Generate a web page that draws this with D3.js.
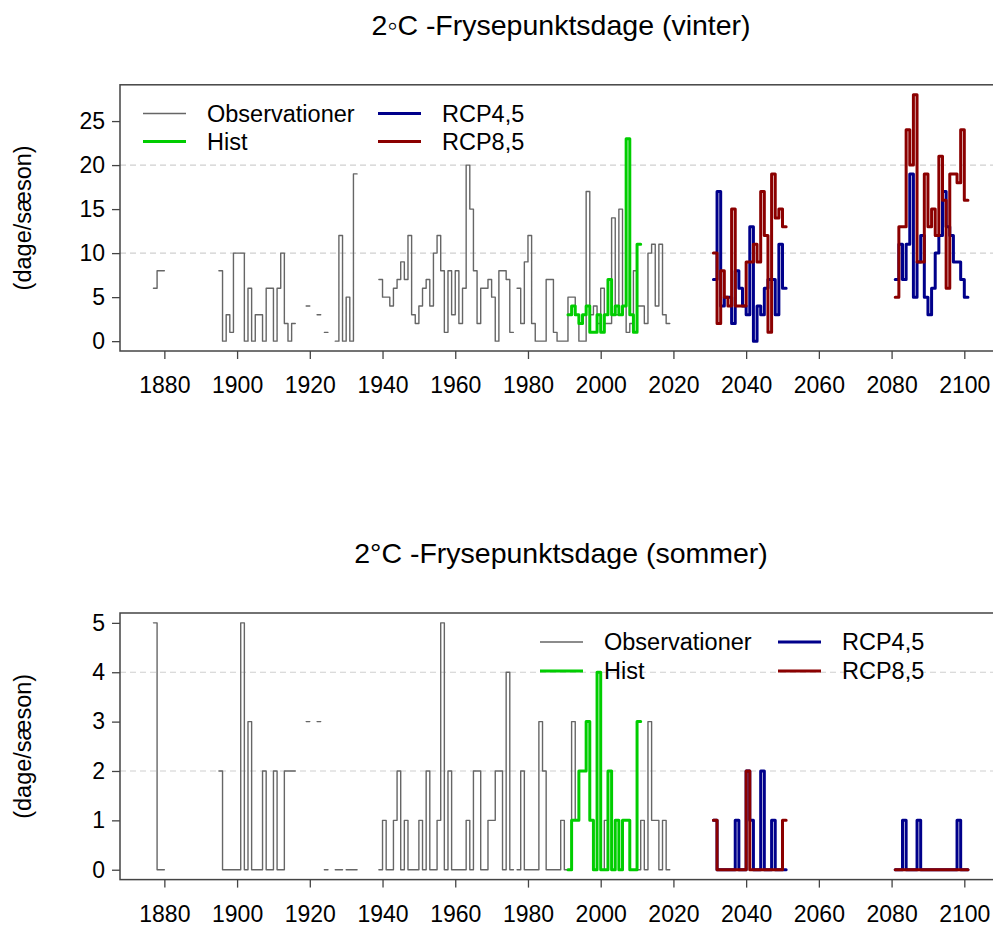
<!DOCTYPE html>
<html>
<head>
<meta charset="utf-8">
<script src="https://cdn.jsdelivr.net/npm/d3@7"></script>
<style>
  body { margin: 0; background: #fff; }
  svg text { font-family: "Liberation Sans", Arial, sans-serif; fill: #000; }
</style>
</head>
<body>
<svg id="chart" width="993" height="935"></svg>
<script>
// ---- data (one value per season/year) ----
const obsStart = 1877;
const histStart = 1991;
const nearStart = 2031;
const farStart = 2081;

// vinter
const obsWinter = [6, 8, 8,
  null, null, null, null, null, null, null, null, null, null, null, null, null, null, null,
  8, 0, 3, 1, 10, 10, 10, 0, 6, 0, 3, 3, 0, 6, 6, 0, 6, 10, 2, 0, 2,
  null, null, null, 4, null, null, 3, null, 1, null, null,
  0, 12, 0, 5, 0, 19,
  null, null, null, null, null, null,
  7, 5, 5, 4, 6, 7, 9, 7, 12, 3, 2, 4, 6, 7, 4, 10, 12, 8, 1, 8, 3, 8, 2, 6, 20, 15, 8, 2, 6, 6, 7, 5, 0, 8, 8, 7, 1,
  null,
  6, 2, 9, 12, 2, 0, 0, 0, 7, 7, 1, 0, 0, 0, 5, 5, 3, 0, 0, 17, 3, 4, 2, 6, 2, 2, 14, 3, 15, 4, 1, 2, 8, 4, 4, 2, 10, 11, 4, 11, 3, 2];
const histWinter = [3, 4, 3, 2, 3, 4, 1, 1, 3, 1, 3, 7, 3, 4, 3, 4, 23, 3, 1, 11];
const rcp45WinterNear = [7, 17, 4, 5, 5, 2, 8, 6, 4, 3, 13, 0, 4, 3, 6, 7, 7, 3, 11, 6];
const rcp85WinterNear = [10, 2, 8, 5, 4, 15, 4, 4, 4, 9, 9, 11, 9, 17, 12, 1, 19, 14, 15, 13];
const rcp45WinterFar = [7, 11, 7, 11, 19, 5, 9, 12, 5, 3, 6, 10, 12, 17, 13, 12, 9, 9, 7, 5];
const rcp85WinterFar = [5, 13, 13, 24, 20, 28, 9, 9, 19, 13, 15, 12, 21, 16, 6, 19, 19, 18, 24, 16];

// sommer
const obsSummer = [5, 0, 0,
  null, null, null, null, null, null, null, null, null, null, null, null, null, null, null,
  2, 0, 0, 0, 0, 0, 5, 0, 3, 0, 0, 0, 2, 0, 0, 2, 0, 0, 2, 2, 2,
  null, null, null, 3, null, null, 3, null, 0, null, null,
  0, 0, null, 0, 0, 0,
  null, null, null, null, null, null,
  0, 1, 0, 0, 1, 2, 0, 1, 0, 0, 0, 1, 0, 2, 0, 0, 1, 5, 0, 2, 0, 0, 0, 0, 1, 0, 2, 2, 0, 0, 1, 1, 2, 2, 0, 4, 0,
  null,
  0, 2, 0, 0, 0, 0, 3, 2, 0, 0, 0, 0, 1, 0, 0, 3, 1, 2, 2, 3, 1, 0, 4, 0, 1, 2, 0, 1, 0, 1, 1, 0, 0, 0, 1, 0, 3, 1, 1, 0, 1, 0];
const histSummer = [0, 1, 1, 2, 2, 3, 1, 0, 4, 0, 0, 2, 0, 1, 0, 1, 1, 0, 0, 3];
const rcp45SummerNear = [1, 0, 0, 0, 0, 0, 1, 0, 0, 2, 1, 0, 0, 2, 0, 0, 1, 0, 0, 0];
const rcp85SummerNear = [1, 0, 0, 0, 0, 0, 0, 0, 0, 2, 0, 0, 0, 0, 0, 0, 0, 0, 0, 1];
const rcp45SummerFar = [0, 0, 1, 0, 0, 0, 1, 0, 0, 0, 0, 0, 0, 0, 0, 0, 0, 1, 0, 0];
const rcp85SummerFar = [0, 0, 0, 0, 0, 0, 0, 0, 0, 0, 0, 0, 0, 0, 0, 0, 0, 0, 0, 0];

const xTicks = [1880, 1900, 1920, 1940, 1960, 1980, 2000, 2020, 2040, 2060, 2080, 2100];
const yTicksWinter = [0, 5, 10, 15, 20, 25];
const yTicksSummer = [0, 1, 2, 3, 4, 5];
const gridWinter = [10, 20];
const gridSummer = [2, 4];
const legendNames = ["Observationer", "Hist", "RCP4,5", "RCP8,5"];

// ---- styles ----
const col = {obs: "#666666", hist: "#00cd00", rcp45: "#00008b", rcp85: "#8b0000"};
const lw = {obs: 1.4, hist: 3, rcp45: 3, rcp85: 3};
const fontSize = 23.5;

const svg = d3.select("#chart");
svg.append("rect").attr("width", 993).attr("height", 935).attr("fill", "#fff");

const x = d3.scaleLinear().domain([1867.8, 2110.2]).range([120, 1001.4]);

// one horizontal per year [year, year+1], verticals between consecutive years
function stepPoints(start, vals) {
  const pts = [];
  vals.forEach(function (v, i) {
    if (v === null) {
      if (pts.length && pts[pts.length - 1] !== null) pts.push(null);
      return;
    }
    pts.push([start + i, v]);
    const next = vals[i + 1];
    if (next === undefined || next === null) pts.push([start + i + 1, v]);
  });
  return pts;
}

function drawPanel(p) {
  const y = d3.scaleLinear().domain(p.ydom).range([p.bottom, p.top]);
  const g = svg.append("g");
  const clipId = "clip" + p.id;

  svg.append("clipPath").attr("id", clipId)
    .append("rect")
    .attr("x", 120).attr("y", p.top)
    .attr("width", 1001.4 - 120).attr("height", p.bottom - p.top);

  // title
  g.append("text")
    .attr("x", 561).attr("y", p.top - 60)
    .attr("text-anchor", "middle")
    .attr("dominant-baseline", "central")
    .style("font-size", "28.5px")
    .text(p.title);

  // grid
  g.selectAll(".grid")
    .data(p.grid)
    .enter().append("line")
    .attr("x1", 120).attr("x2", 1001.4)
    .attr("y1", d => y(d)).attr("y2", d => y(d))
    .attr("stroke", "#cfcfcf")
    .attr("stroke-width", 1.2)
    .attr("stroke-dasharray", "6,4");

  // series
  const line = d3.line()
    .defined(d => d !== null)
    .x(d => x(d[0]))
    .y(d => y(d[1]))
    .curve(d3.curveStepAfter);

  const lines = g.append("g").attr("clip-path", "url(#" + clipId + ")");
  p.series.forEach(function (s) {
    lines.append("path")
      .datum(stepPoints(s.start, s.values))
      .attr("d", line)
      .attr("fill", "none")
      .attr("stroke", col[s.key])
      .attr("stroke-width", lw[s.key])
      .attr("stroke-linejoin", "round")
      .attr("stroke-linecap", "round");
  });

  // axes
  const xAxis = g.append("g")
    .attr("transform", "translate(0," + p.bottom + ")")
    .call(d3.axisBottom(x).tickValues(xTicks).tickFormat(d3.format("d"))
      .tickSize(8).tickSizeOuter(0).tickPadding(18));
  const yAxis = g.append("g")
    .attr("transform", "translate(120,0)")
    .call(d3.axisLeft(y).tickValues(p.yticks).tickFormat(d3.format("d"))
      .tickSize(8).tickSizeOuter(0).tickPadding(7));

  [xAxis, yAxis].forEach(function (a) {
    a.selectAll("text").style("font-size", "23px").style("font-family", "Liberation Sans, Arial, sans-serif").attr("fill", "#000");
    a.selectAll("line").attr("stroke", "#444").attr("stroke-width", 1.3);
    a.select(".domain").remove();
  });

  // box
  g.append("rect")
    .attr("x", 120).attr("y", p.top)
    .attr("width", 1001.4 - 120).attr("height", p.bottom - p.top)
    .attr("fill", "none")
    .attr("stroke", "#444")
    .attr("stroke-width", 1.5);

  // y label
  g.append("text")
    .attr("transform", "translate(23," + ((p.top + p.bottom) / 2) + ") rotate(-90)")
    .attr("text-anchor", "middle")
    .attr("dominant-baseline", "central")
    .style("font-size", fontSize + "px")
    .text("(dage/sæson)");

  // legend
  const keys = ["obs", "hist", "rcp45", "rcp85"];
  keys.forEach(function (k, i) {
    const cx = p.legend.cols[Math.floor(i / 2)];
    const cy = p.legend.rows[i % 2];
    g.append("line")
      .attr("x1", cx).attr("x2", cx + 43)
      .attr("y1", cy).attr("y2", cy)
      .attr("stroke", col[k])
      .attr("stroke-width", lw[k]);
    g.append("text")
      .attr("x", cx + 64).attr("y", cy)
      .attr("dominant-baseline", "central")
      .style("font-size", fontSize + "px")
      .text(legendNames[i]);
  });
}

drawPanel({
  id: "w",
  title: "2\u25e6C -Frysepunktsdage (vinter)",
  top: 84.8, bottom: 351,
  ydom: [-1.12, 29.12],
  yticks: yTicksWinter,
  grid: gridWinter,
  legend: {cols: [143, 378], rows: [113.5, 141.5]},
  series: [
    {key: "obs", start: obsStart, values: obsWinter},
    {key: "hist", start: histStart, values: histWinter},
    {key: "rcp45", start: nearStart, values: rcp45WinterNear},
    {key: "rcp45", start: farStart, values: rcp45WinterFar},
    {key: "rcp85", start: nearStart, values: rcp85WinterNear},
    {key: "rcp85", start: farStart, values: rcp85WinterFar}
  ]
});

drawPanel({
  id: "s",
  title: "2\u00b0C -Frysepunktsdage (sommer)",
  top: 613, bottom: 879.6,
  ydom: [-0.2, 5.2],
  yticks: yTicksSummer,
  grid: gridSummer,
  legend: {cols: [540, 778], rows: [642, 671]},
  series: [
    {key: "obs", start: obsStart, values: obsSummer},
    {key: "hist", start: histStart, values: histSummer},
    {key: "rcp45", start: nearStart, values: rcp45SummerNear},
    {key: "rcp45", start: farStart, values: rcp45SummerFar},
    {key: "rcp85", start: nearStart, values: rcp85SummerNear},
    {key: "rcp85", start: farStart, values: rcp85SummerFar}
  ]
});
</script>
</body>
</html>
